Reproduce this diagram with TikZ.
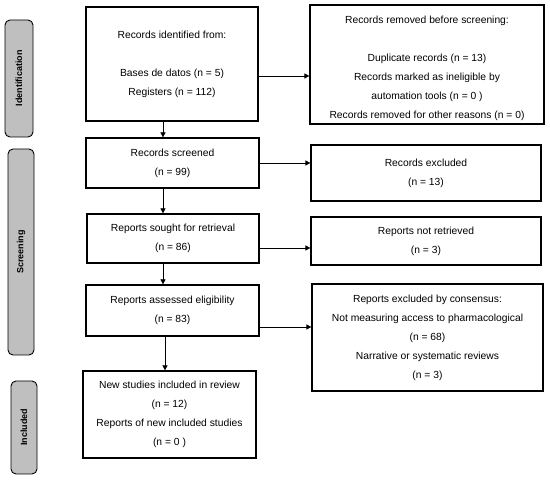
\documentclass[tikz,border=0pt]{standalone}
\usepackage{fontspec}
\setmainfont{Liberation Sans}
\usetikzlibrary{arrows.meta}
\begin{document}
\begin{tikzpicture}[x=1pt,y=-1pt,
  box/.style={draw, line width=1.2pt, inner sep=0pt, align=center,
    font=\fontsize{10.3}{19}\selectfont},
  boxtext/.style={inner sep=0pt, align=center, font=\fontsize{10.3}{19}\selectfont},
  phase/.style={draw, fill=gray!50, rounded corners=5pt, line width=0.9pt,
    inner sep=0pt, rotate=90, font=\bfseries\fontsize{9}{10}\selectfont},
  arr/.style={-{Triangle[length=5pt,width=5pt]}, line width=0.7pt}]
\useasboundingbox (0,0) rectangle (550,481);

% phase labels
\node[phase, minimum width=117pt, minimum height=28pt] (pid) at (19,78.5) {Identification};
\node[phase, minimum width=206pt, minimum height=26pt] (psc) at (21,252) {Screening};
\node[phase, minimum width=93pt, minimum height=26pt] (pin) at (24,427.5) {Included};

% left column
\node[box, minimum width=172pt, minimum height=114pt] (b1) at (172,64)
  {Records identified from:\\[19pt]Bases de datos (n = 5)\\Registers (n = 112)};
\node[box, minimum width=173pt, minimum height=50pt] (b2) at (172.5,163)
  {Records screened\\(n = 99)};
\node[box, minimum width=172pt, minimum height=49pt] (b3) at (173,238.5)
  {Reports sought for retrieval\\(n = 86)};
\node[box, minimum width=173pt, minimum height=51pt] (b4) at (172.5,310.5)
  {Reports assessed eligibility\\(n = 83)};
\node[box, minimum width=173pt, minimum height=87pt] (b5) at (169.5,414.5)
  {New studies included in review\\(n = 12)\\Reports of new included studies\\(n = 0 )};

% right column
\node[box, minimum width=234pt, minimum height=119pt] (r1) at (427,64.5) {};
\node[boxtext] (r1t) at ([yshift=-3.5pt]r1.center)
  {Records removed before screening:\\[19pt]Duplicate records (n = 13)\\Records marked as ineligible by\\automation tools (n = 0 )\\Records removed for other reasons (n = 0)};
\node[box, minimum width=230pt, minimum height=56pt] (r2) at (426,173)
  {Records excluded\\(n = 13)};
\node[box, minimum width=230pt, minimum height=48pt] (r3) at (426,241)
  {Reports not retrieved\\(n = 3)};
\node[box, minimum width=231pt, minimum height=107pt] (r4) at (427.5,337.5)
  {Reports excluded by consensus:\\Not measuring access to pharmacological\\(n = 68)\\Narrative or systematic reviews\\(n = 3)};

% vertical arrows
\draw[arr] (b1.south -| 163,0) -- (b2.north -| 163,0);
\draw[arr] (b2.south -| 163,0) -- (b3.north -| 163,0);
\draw[arr] (b3.south -| 163,0) -- (b4.north -| 163,0);
\draw[arr] (b4.south -| 165,0) -- (b5.north -| 165,0);

% horizontal arrows
\draw[arr] (b1.east |- 0,76) -- (r1.west |- 0,76);
\draw[arr] (b2.east |- 0,163) -- (r2.west |- 0,163);
\draw[arr] (b3.east |- 0,248) -- (r3.west |- 0,248);
\draw[arr] (b4.east |- 0,327) -- (r4.west |- 0,327);
\end{tikzpicture}
\end{document}
